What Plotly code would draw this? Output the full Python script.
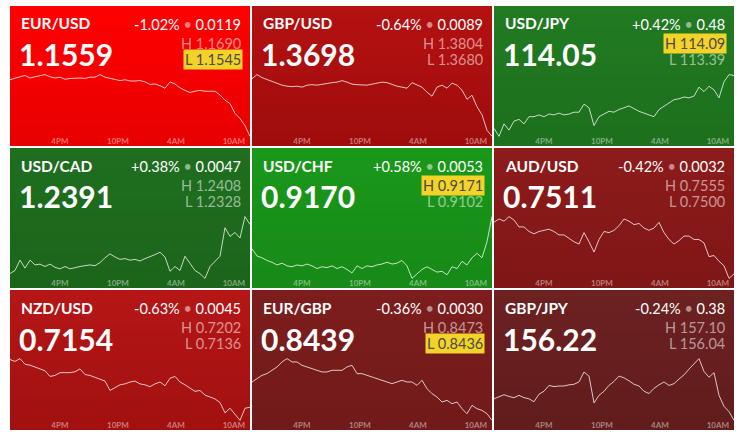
import plotly.graph_objects as go
import pandas as pd

# ---------------- data ----------------
pairs = ["EUR/USD", "GBP/USD", "USD/JPY", "USD/CAD", "USD/CHF",
         "AUD/USD", "NZD/USD", "EUR/GBP", "GBP/JPY"]
last_price = ["1.1559", "1.3698", "114.05", "1.2391", "0.9170",
              "0.7511", "0.7154", "0.8439", "156.22"]
change_pct = ["-1.02%", "-0.64%", "+0.42%", "+0.38%", "+0.58%",
              "-0.42%", "-0.63%", "-0.36%", "-0.24%"]
change_abs = ["0.0119", "0.0089", "0.48", "0.0047", "0.0053",
              "0.0032", "0.0045", "0.0030", "0.38"]
day_high = ["1.1690", "1.3804", "114.09", "1.2408", "0.9171",
            "0.7555", "0.7202", "0.8473", "157.10"]
day_low = ["1.1545", "1.3680", "113.39", "1.2328", "0.9102",
           "0.7500", "0.7136", "0.8436", "156.04"]
# which of H / L is currently being touched (highlighted in yellow)
touching = ["L", None, "H", None, "H", None, None, "L", None]

eurusd = [1.1678, 1.1682, 1.1685, 1.1688, 1.1682, 1.1685, 1.1687, 1.1690, 1.1685, 1.1682,
          1.1684, 1.1679, 1.1681, 1.1682, 1.1682, 1.1681, 1.1684, 1.1684, 1.1690, 1.1684,
          1.1681, 1.1679, 1.1676, 1.1678, 1.1675, 1.1675, 1.1676, 1.1673, 1.1667, 1.1668,
          1.1664, 1.1658, 1.1673, 1.1668, 1.1659, 1.1653, 1.1648, 1.1651, 1.1653, 1.1651,
          1.1651, 1.1651, 1.1642, 1.1630, 1.1622, 1.1599, 1.1587, 1.1570, 1.1545]
gbpusd = [1.3795, 1.3803, 1.3797, 1.3793, 1.3789, 1.3786, 1.3782, 1.3780, 1.3779, 1.3780,
          1.3778, 1.3782, 1.3783, 1.3782, 1.3784, 1.3786, 1.3787, 1.3788, 1.3791, 1.3788,
          1.3784, 1.3783, 1.3782, 1.3782, 1.3784, 1.3786, 1.3788, 1.3787, 1.3783, 1.3780,
          1.3778, 1.3776, 1.3787, 1.3783, 1.3778, 1.3768, 1.3760, 1.3778, 1.3782, 1.3776,
          1.3786, 1.3782, 1.3772, 1.3754, 1.3762, 1.3739, 1.3723, 1.3692, 1.3680]
usdjpy = [113.48, 113.39, 113.53, 113.46, 113.56, 113.58, 113.53, 113.61, 113.61, 113.63,
          113.61, 113.64, 113.63, 113.65, 113.63, 113.64, 113.66, 113.66, 113.75, 113.71,
          113.51, 113.61, 113.64, 113.67, 113.66, 113.69, 113.71, 113.73, 113.70, 113.67,
          113.65, 113.63, 113.61, 113.69, 113.73, 113.76, 113.80, 113.81, 113.83, 113.82,
          113.84, 113.94, 113.89, 113.95, 113.91, 113.82, 114.00, 114.08, 114.07]
usdcad = [1.2334, 1.2338, 1.2351, 1.2341, 1.2351, 1.2345, 1.2346, 1.2343, 1.2346, 1.2342,
          1.2340, 1.2343, 1.2340, 1.2342, 1.2343, 1.2344, 1.2345, 1.2344, 1.2348, 1.2354,
          1.2359, 1.2355, 1.2352, 1.2353, 1.2351, 1.2352, 1.2350, 1.2353, 1.2355, 1.2358,
          1.2361, 1.2355, 1.2337, 1.2343, 1.2338, 1.2356, 1.2347, 1.2338, 1.2334, 1.2328,
          1.2343, 1.2349, 1.2356, 1.2392, 1.2381, 1.2386, 1.2379, 1.2406, 1.2396]
usdchf = [0.9135, 0.9127, 0.9125, 0.9122, 0.9120, 0.9117, 0.9119, 0.9116, 0.9115, 0.9117,
          0.9116, 0.9118, 0.9116, 0.9113, 0.9115, 0.9114, 0.9116, 0.9113, 0.9115, 0.9112,
          0.9108, 0.9116, 0.9113, 0.9116, 0.9115, 0.9117, 0.9118, 0.9120, 0.9118, 0.9119,
          0.9122, 0.9116, 0.9102, 0.9107, 0.9112, 0.9115, 0.9112, 0.9109, 0.9110, 0.9106,
          0.9115, 0.9113, 0.9121, 0.9117, 0.9125, 0.9130, 0.9125, 0.9143, 0.9171]
audusd = [0.7549, 0.7552, 0.7550, 0.7554, 0.7551, 0.7545, 0.7545, 0.7541, 0.7539, 0.7541,
          0.7542, 0.7543, 0.7541, 0.7538, 0.7538, 0.7535, 0.7532, 0.7530, 0.7540, 0.7532,
          0.7523, 0.7534, 0.7541, 0.7540, 0.7542, 0.7546, 0.7552, 0.7550, 0.7547, 0.7548,
          0.7544, 0.7542, 0.7544, 0.7549, 0.7540, 0.7534, 0.7530, 0.7533, 0.7537, 0.7537,
          0.7534, 0.7534, 0.7531, 0.7519, 0.7520, 0.7515, 0.7511, 0.7500, 0.7504]
nzdusd = [0.7201, 0.7199, 0.7202, 0.7196, 0.7195, 0.7193, 0.7191, 0.7189, 0.7183, 0.7184,
          0.7187, 0.7187, 0.7187, 0.7188, 0.7191, 0.7185, 0.7184, 0.7182, 0.7180, 0.7178,
          0.7168, 0.7171, 0.7174, 0.7175, 0.7177, 0.7178, 0.7175, 0.7174, 0.7172, 0.7175,
          0.7177, 0.7173, 0.7181, 0.7183, 0.7177, 0.7174, 0.7170, 0.7167, 0.7168, 0.7163,
          0.7161, 0.7159, 0.7155, 0.7144, 0.7149, 0.7142, 0.7136, 0.7149, 0.7150]
eurgbp = [0.8459, 0.8461, 0.8463, 0.8464, 0.8466, 0.8468, 0.8471, 0.8473, 0.8471, 0.8471,
          0.8469, 0.8468, 0.8467, 0.8466, 0.8465, 0.8465, 0.8466, 0.8466, 0.8466, 0.8468,
          0.8469, 0.8464, 0.8464, 0.8463, 0.8462, 0.8461, 0.8460, 0.8459, 0.8458, 0.8459,
          0.8460, 0.8459, 0.8459, 0.8457, 0.8460, 0.8455, 0.8452, 0.8450, 0.8447, 0.8448,
          0.8446, 0.8447, 0.8443, 0.8440, 0.8445, 0.8443, 0.8442, 0.8440, 0.8436]
gbpjpy = [156.41, 156.44, 156.48, 156.45, 156.43, 156.47, 156.43, 156.41, 156.36, 156.49,
          156.54, 156.64, 156.62, 156.63, 156.63, 156.65, 156.66, 156.70, 156.87, 156.80,
          156.34, 156.47, 156.54, 156.64, 156.71, 156.80, 156.77, 156.72, 156.66, 156.63,
          156.54, 156.50, 156.59, 156.65, 156.70, 156.64, 156.67, 156.75, 156.82, 156.92,
          157.01, 157.10, 156.88, 156.78, 156.86, 156.47, 156.28, 156.19, 156.04]
series = [eurusd, gbpusd, usdjpy, usdcad, usdchf, audusd, nzdusd, eurgbp, gbpjpy]

window_start = "2021-09-28 10:50"
window_end = "2021-09-29 11:40"
tick_times = ["2021-09-28 16:00", "2021-09-28 22:00", "2021-09-29 04:00", "2021-09-29 10:00"]
tick_labels = ["4PM", "10PM", "4AM", "10AM"]

# tile colours (top, bottom of vertical gradient)
tile_colors = [((255, 0, 0), (232, 0, 0)),
               ((180, 17, 17), (160, 12, 12)),
               ((33, 123, 33), (29, 112, 29)),
               ((31, 111, 31), (27, 101, 27)),
               ((26, 152, 26), (23, 138, 23)),
               ((141, 27, 27), (128, 22, 22)),
               ((181, 22, 22), (162, 16, 16)),
               ((125, 29, 29), (113, 26, 26)),
               ((109, 33, 33), (97, 28, 28))]

# ---------------- layout geometry ----------------
W, H = 742, 437
col_left = [10, 252, 494]
tile_w = 240
row_top = [6, 148, 290]
tile_h = 140
band_top, band_bot = 68, 131   # line band inside a tile (px from tile top)

def px(x):
    return x / W

def py(y):
    return 1 - y / H

fig = go.Figure()
shapes = []
annotations = []
layout_axes = {}
FONT = "Lato, 'Open Sans', sans-serif"
n_strips = 20

for i in range(9):
    r, c = divmod(i, 3)
    x0, y0 = col_left[c], row_top[r]
    x1, y1 = x0 + tile_w, y0 + tile_h
    (ct, cb) = tile_colors[i]
    # gradient background via horizontal strips
    for s in range(n_strips):
        t = s / (n_strips - 1)
        col = tuple(round(ct[k] + (cb[k] - ct[k]) * t) for k in range(3))
        sy0 = y0 + tile_h * s / n_strips
        sy1 = y0 + tile_h * (s + 1) / n_strips + 0.6
        shapes.append(dict(type="rect", xref="paper", yref="paper",
                           x0=px(x0), x1=px(x1), y0=py(min(sy1, y1)), y1=py(sy0),
                           fillcolor=f"rgb{col}", line=dict(width=0), layer="below"))

    vals = series[i]
    times = pd.date_range(window_start, window_end, periods=len(vals))
    xa = "x" if i == 0 else f"x{i+1}"
    ya = "y" if i == 0 else f"y{i+1}"
    fig.add_trace(go.Scatter(x=times, y=vals, mode="lines", xaxis=xa, yaxis=ya,
                             line=dict(color="rgba(255,255,255,0.75)", width=1),
                             hoverinfo="skip", showlegend=False))
    lo, hi = min(vals), max(vals)
    pad = (hi - lo) * 0.01
    xk = "xaxis" if i == 0 else f"xaxis{i+1}"
    yk = "yaxis" if i == 0 else f"yaxis{i+1}"
    layout_axes[xk] = dict(domain=[px(x0), px(x1)], anchor=ya,
                           range=[window_start, window_end], type="date",
                           tickvals=tick_times, ticktext=tick_labels,
                           showgrid=False, zeroline=False, showline=False, ticks="",
                           ticklabelstandoff=-2,
                           tickfont=dict(family=FONT, size=8, weight="bold",
                                         color="rgba(255,255,255,0.45)"),
                           fixedrange=True)
    layout_axes[yk] = dict(domain=[py(y0 + band_bot), py(y0 + band_top)], anchor=xa,
                           range=[lo - pad, hi + pad], visible=False, fixedrange=True)

    # texts
    annotations.append(dict(xref="paper", yref="paper", x=px(x0 + 9), y=py(y0 + 17.5),
                            xanchor="left", yanchor="middle", showarrow=False,
                            text=pairs[i],
                            font=dict(family=FONT, size=15.5, weight="bold", color="white")))
    annotations.append(dict(xref="paper", yref="paper", x=px(x0 + 7), y=py(y0 + 48.5),
                            xanchor="left", yanchor="middle", showarrow=False,
                            text=last_price[i],
                            font=dict(family=FONT, size=30, weight="bold", color="white")))
    annotations.append(dict(xref="paper", yref="paper", x=px(x0 + 233), y=py(y0 + 18),
                            xanchor="right", yanchor="middle", showarrow=False,
                            text=f"{change_pct[i]} <span style='color:rgba(255,255,255,0.5)'>•</span> {change_abs[i]}",
                            font=dict(family=FONT, size=14.5, color="white")))
    for lab, val, yy in (("H", day_high[i], 37.5), ("L", day_low[i], 53.5)):
        hl = touching[i] == lab
        annotations.append(dict(xref="paper", yref="paper", x=px(x0 + 233), y=py(y0 + yy),
                                xanchor="right", yanchor="middle", showarrow=False,
                                text=f"{lab} {val}",
                                bgcolor="#f4d328" if hl else None,
                                borderpad=1,
                                font=dict(family=FONT, size=14.5,
                                          color="#4a4a4a" if hl else "rgba(255,255,255,0.55)")))

fig.update_layout(width=W, height=H, margin=dict(l=0, r=0, t=0, b=0),
                  paper_bgcolor="white", plot_bgcolor="rgba(0,0,0,0)",
                  shapes=shapes, annotations=annotations, showlegend=False,
                  **layout_axes)
fig.write_html("out.html", config={"displayModeBar": False},
               post_script="document.body.style.margin='0';")
